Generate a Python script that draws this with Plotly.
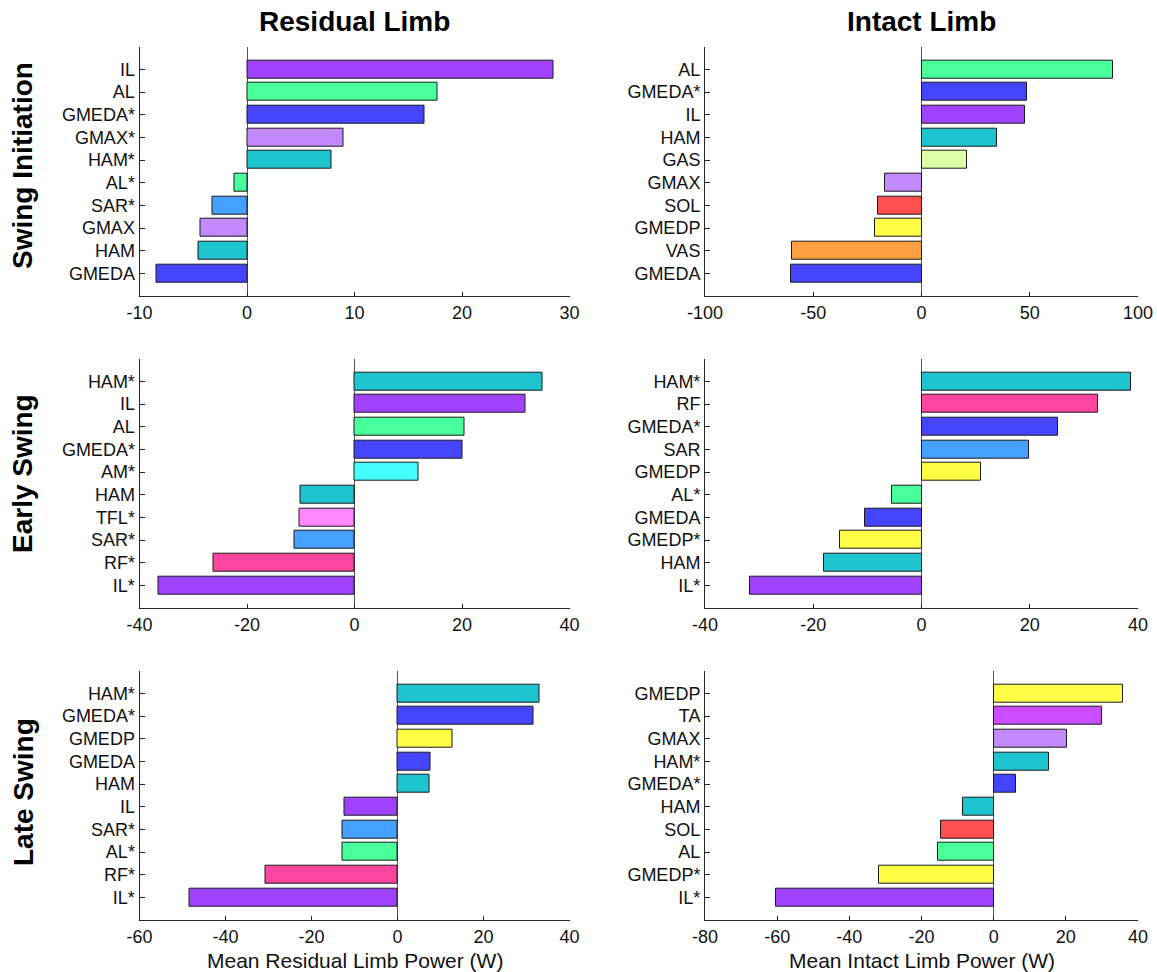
import plotly.graph_objects as go

# Muscle colours (asterisk variants share the base muscle's colour)
muscle_colors = {
    "IL": "#A043FF",
    "AL": "#48FF9C",
    "GMEDA": "#4545FF",
    "GMEDP": "#FFFF45",
    "GMAX": "#C389FF",
    "HAM": "#1EC5D0",
    "SAR": "#45A0FF",
    "GAS": "#DDFFAA",
    "SOL": "#FF5050",
    "VAS": "#FFA040",
    "AM": "#45FFFF",
    "TFL": "#FF88FF",
    "RF": "#FF45A0",
    "TA": "#CC4DFF",
}

# Muscles listed top to bottom, with mean power in W
res_init_labels = ["IL", "AL", "GMEDA*", "GMAX*", "HAM*", "AL*", "SAR*", "GMAX", "HAM", "GMEDA"]
res_init_values = [28.5, 17.7, 16.5, 9.0, 7.9, -1.2, -3.2, -4.3, -4.5, -8.4]

int_init_labels = ["AL", "GMEDA*", "IL", "HAM", "GAS", "GMAX", "SOL", "GMEDP", "VAS", "GMEDA"]
int_init_values = [88.3, 48.5, 47.7, 35.1, 21.1, -16.7, -19.9, -21.4, -59.6, -60.1]

res_early_labels = ["HAM*", "IL", "AL", "GMEDA*", "AM*", "HAM", "TFL*", "SAR*", "RF*", "IL*"]
res_early_values = [35.0, 31.9, 20.4, 20.1, 11.9, -10.0, -10.2, -11.1, -26.2, -36.5]

int_early_labels = ["HAM*", "RF", "GMEDA*", "SAR", "GMEDP", "AL*", "GMEDA", "GMEDP*", "HAM", "IL*"]
int_early_values = [38.7, 32.7, 25.2, 19.9, 10.9, -5.4, -10.5, -15.1, -18.1, -31.6]

res_late_labels = ["HAM*", "GMEDA*", "GMEDP", "GMEDA", "HAM", "IL", "SAR*", "AL*", "RF*", "IL*"]
res_late_values = [33.1, 31.7, 12.7, 7.7, 7.5, -12.4, -12.8, -12.8, -30.6, -48.4]

int_late_labels = ["GMEDP", "TA", "GMAX", "HAM*", "GMEDA*", "HAM", "SOL", "AL", "GMEDP*", "IL*"]
int_late_values = [35.9, 30.1, 20.4, 15.2, 6.2, -8.6, -14.6, -15.3, -31.9, -60.4]

# x-axis tick values per panel
res_init_ticks = [-10, 0, 10, 20, 30]
int_init_ticks = [-100, -50, 0, 50, 100]
res_early_ticks = [-40, -20, 0, 20, 40]
int_early_ticks = [-40, -20, 0, 20, 40]
res_late_ticks = [-60, -40, -20, 0, 20, 40]
int_late_ticks = [-80, -60, -40, -20, 0, 20, 40]

column_titles = ["Residual Limb", "Intact Limb"]
row_titles = ["Swing Initiation", "Early Swing", "Late Swing"]
x_titles = ["Mean Residual Limb Power (W)", "Mean Intact Limb Power (W)"]

W, H = 1157, 972
FONT = "Liberation Sans, Arial, sans-serif"

# pixel boxes of the axes: columns (left, right), rows (top, bottom)
col_px = [(139.5, 569.5), (705.0, 1138.0)]
row_px = [(46.7, 296.0), (358.7, 608.0), (670.7, 920.0)]

panels = [
    (0, 0, res_init_labels, res_init_values, res_init_ticks),
    (0, 1, int_init_labels, int_init_values, int_init_ticks),
    (1, 0, res_early_labels, res_early_values, res_early_ticks),
    (1, 1, int_early_labels, int_early_values, int_early_ticks),
    (2, 0, res_late_labels, res_late_values, res_late_ticks),
    (2, 1, int_late_labels, int_late_values, int_late_ticks),
]

fig = go.Figure()
layout = {}
axis_line = "#262626"

for k, (r, c, labels, values, ticks) in enumerate(panels, start=1):
    xa = "x" if k == 1 else f"x{k}"
    ya = "y" if k == 1 else f"y{k}"
    n = len(labels)
    ypos = [n - i for i in range(n)]
    colors = [muscle_colors[lab.rstrip("*")] for lab in labels]
    fig.add_trace(go.Bar(
        x=values, y=ypos, orientation="h", width=0.8,
        marker=dict(color=colors, line=dict(color="#1a1a1a", width=1)),
        xaxis=xa, yaxis=ya, showlegend=False, hoverinfo="x+text",
        text=labels, textposition="none",
    ))
    x0, x1 = col_px[c]
    y0, y1 = row_px[r]
    layout["xaxis" if k == 1 else f"xaxis{k}"] = dict(
        domain=[x0 / W, x1 / W], anchor=ya, automargin=False,
        range=[ticks[0], ticks[-1]],
        tickmode="array", tickvals=ticks, ticktext=[str(t) for t in ticks],
        ticks="inside", ticklen=4, tickcolor=axis_line, tickwidth=1,
        showline=True, linecolor=axis_line, linewidth=1,
        zeroline=True, zerolinecolor="#555555", zerolinewidth=1,
        showgrid=False, tickfont=dict(size=18, color="#111111", family=FONT),
        fixedrange=True,
    )
    layout["yaxis" if k == 1 else f"yaxis{k}"] = dict(
        domain=[1 - y1 / H, 1 - y0 / H], anchor=xa, automargin=False,
        range=[0, n + 1],
        tickmode="array", tickvals=ypos, ticktext=labels,
        ticks="inside", ticklen=5, tickcolor=axis_line, tickwidth=1,
        showline=True, linecolor=axis_line, linewidth=1,
        zeroline=False, showgrid=False,
        tickfont=dict(size=18, color="#111111", family=FONT),
        fixedrange=True,
    )

annotations = []
for c, title in enumerate(column_titles):
    x0, x1 = col_px[c]
    annotations.append(dict(
        text=f"<b>{title}</b>", x=(x0 + x1) / 2 / W, y=1 - 22 / H,
        xref="paper", yref="paper", xanchor="center", yanchor="middle",
        showarrow=False, font=dict(size=28, color="#000000", family=FONT),
    ))
row_centers = [166, 474, 792]
for r, title in enumerate(row_titles):
    annotations.append(dict(
        text=f"<b>{title}</b>", x=23 / W, y=1 - row_centers[r] / H,
        xref="paper", yref="paper", xanchor="center", yanchor="middle",
        textangle=-90, showarrow=False,
        font=dict(size=28, color="#000000", family=FONT),
    ))
for c, title in enumerate(x_titles):
    x0, x1 = col_px[c]
    annotations.append(dict(
        text=title, x=(x0 + x1) / 2 / W, y=1 - 960 / H,
        xref="paper", yref="paper", xanchor="center", yanchor="middle",
        showarrow=False, font=dict(size=21, color="#111111", family=FONT),
    ))

fig.update_layout(
    template="none",
    width=W, height=H,
    margin=dict(l=0, r=0, t=0, b=0, pad=0, autoexpand=False),
    paper_bgcolor="white", plot_bgcolor="white",
    showlegend=False, bargap=0,
    annotations=annotations,
    font=dict(family=FONT),
    **layout,
)

fig.write_html("out.html", config={"displayModeBar": False})
